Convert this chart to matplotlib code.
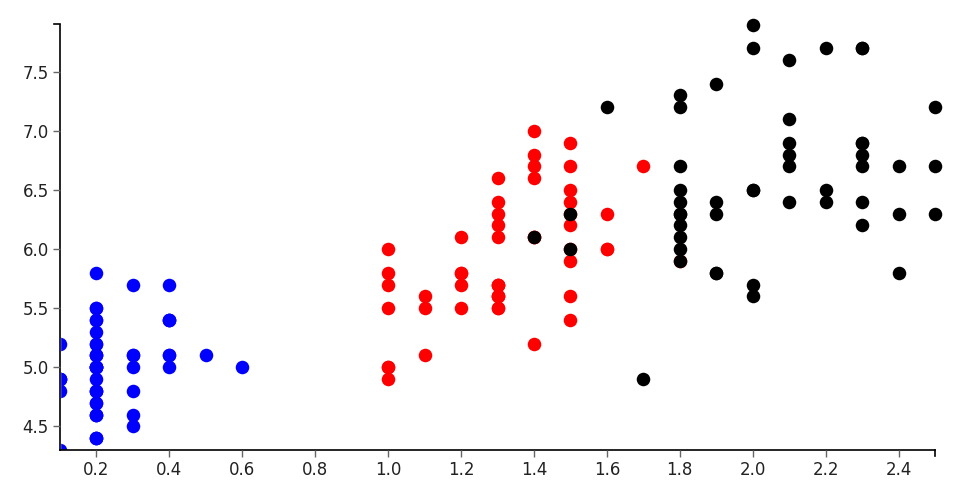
import matplotlib.pyplot as plt
from matplotlib.patches import Rectangle
from matplotlib.lines import Line2D

# Iris data: petal width (x) vs sepal length (y)
setosa_pw = [0.2, 0.2, 0.2, 0.2, 0.2, 0.4, 0.3, 0.2, 0.2, 0.1,
             0.2, 0.2, 0.1, 0.1, 0.2, 0.4, 0.4, 0.3, 0.3, 0.3,
             0.2, 0.4, 0.2, 0.5, 0.2, 0.2, 0.4, 0.2, 0.2, 0.2,
             0.2, 0.4, 0.1, 0.2, 0.1, 0.2, 0.2, 0.1, 0.2, 0.2,
             0.3, 0.3, 0.2, 0.6, 0.4, 0.3, 0.2, 0.2, 0.2, 0.2]
setosa_sl = [5.1, 4.9, 4.7, 4.6, 5.0, 5.4, 4.6, 5.0, 4.4, 4.9,
             5.4, 4.8, 4.8, 4.3, 5.8, 5.7, 5.4, 5.1, 5.7, 5.1,
             5.4, 5.1, 4.6, 5.1, 4.8, 5.0, 5.0, 5.2, 5.2, 4.7,
             4.8, 5.4, 5.2, 5.5, 4.9, 5.0, 5.5, 4.9, 4.4, 5.1,
             5.0, 4.5, 4.4, 5.0, 5.1, 4.8, 5.1, 4.6, 5.3, 5.0]

versicolor_pw = [1.4, 1.5, 1.5, 1.3, 1.5, 1.3, 1.6, 1.0, 1.3, 1.4,
                 1.0, 1.5, 1.0, 1.4, 1.3, 1.4, 1.5, 1.0, 1.5, 1.1,
                 1.8, 1.3, 1.5, 1.2, 1.3, 1.4, 1.4, 1.7, 1.5, 1.0,
                 1.1, 1.0, 1.2, 1.6, 1.5, 1.6, 1.5, 1.3, 1.3, 1.3,
                 1.2, 1.4, 1.2, 1.0, 1.3, 1.2, 1.3, 1.3, 1.1, 1.3]
versicolor_sl = [7.0, 6.4, 6.9, 5.5, 6.5, 5.7, 6.3, 4.9, 6.6, 5.2,
                 5.0, 5.9, 6.0, 6.1, 5.6, 6.7, 5.6, 5.8, 6.2, 5.6,
                 5.9, 6.1, 6.3, 6.1, 6.4, 6.6, 6.8, 6.7, 6.0, 5.7,
                 5.5, 5.5, 5.8, 6.0, 5.4, 6.0, 6.7, 6.3, 5.6, 5.5,
                 5.5, 6.1, 5.8, 5.0, 5.6, 5.7, 5.7, 6.2, 5.1, 5.7]

virginica_pw = [2.5, 1.9, 2.1, 1.8, 2.2, 2.1, 1.7, 1.8, 1.8, 2.5,
                2.0, 1.9, 2.1, 2.0, 2.4, 2.3, 1.8, 2.2, 2.3, 1.5,
                2.3, 2.0, 2.0, 1.8, 2.1, 1.8, 1.8, 1.8, 2.1, 1.6,
                1.9, 2.0, 2.2, 1.5, 1.4, 2.3, 2.4, 1.8, 1.8, 2.1,
                2.4, 2.3, 1.9, 2.3, 2.5, 2.3, 1.9, 2.0, 2.3, 1.8]
virginica_sl = [6.3, 5.8, 7.1, 6.3, 6.5, 7.6, 4.9, 7.3, 6.7, 7.2,
                6.5, 6.4, 6.8, 5.7, 5.8, 6.4, 6.5, 7.7, 7.7, 6.0,
                6.9, 5.6, 7.7, 6.3, 6.7, 7.2, 6.2, 6.1, 6.4, 7.2,
                7.4, 7.9, 6.4, 6.3, 6.1, 7.7, 6.3, 6.4, 6.0, 6.9,
                6.7, 6.9, 5.8, 6.8, 6.7, 6.7, 6.3, 6.5, 6.2, 5.9]

x_ticks = [0.2, 0.4, 0.6, 0.8, 1.0, 1.2, 1.4, 1.6, 1.8, 2.0, 2.2, 2.4]
y_ticks = [4.5, 5.0, 5.5, 6.0, 6.5, 7.0, 7.5]

plt.rcParams['font.family'] = ['DejaVu Sans']

W, H = 960, 500
fig = plt.figure(figsize=(9.6, 5), dpi=100)
left, right, top, bottom = 60, 935, 24.5, 450
ax = fig.add_axes([left / W, (H - bottom) / H, (right - left) / W, (bottom - top) / H])

s = 95
for xs, ys, c in [(setosa_pw, setosa_sl, 'blue'),
                  (versicolor_pw, versicolor_sl, 'red'),
                  (virginica_pw, virginica_sl, 'black')]:
    ax.scatter(xs, ys, s=s, color=c, linewidths=0, clip_on=False, zorder=2)

ax.set_xlim(0.1, 2.5)
ax.set_ylim(4.3, 7.9)

# white mask left of and below the plot area
ax.add_patch(Rectangle((-0.1, -0.15), 0.1, 1.3, transform=ax.transAxes,
                       color='white', clip_on=False, zorder=2.1))
ax.add_patch(Rectangle((-0.1, -0.15), 1.2, 0.15, transform=ax.transAxes,
                       color='white', clip_on=False, zorder=2.1))

ax.spines['top'].set_visible(False)
ax.spines['right'].set_visible(False)
for sp in ['left', 'bottom']:
    ax.spines[sp].set_linewidth(1.2)
    ax.spines[sp].set_color('black')
    ax.spines[sp].set_zorder(3)
ax.xaxis.set_zorder(3)
ax.yaxis.set_zorder(3)

ax.set_xticks(x_ticks)
ax.set_yticks(y_ticks)
ax.set_xticklabels([f'{v:.1f}' for v in x_ticks])
ax.set_yticklabels([f'{v:.1f}' for v in y_ticks])
ax.tick_params(direction='out', length=5, width=1, color='#666',
               labelsize=12, labelcolor='#222', pad=3)

# outer ticks at the ends of the domain lines
px = 1 / W
py = 1 / H
fig.add_artist(Line2D([(left - 6) * px, left * px], [(H - top) * py] * 2,
                      color='black', lw=1.2))
fig.add_artist(Line2D([right * px] * 2, [(H - bottom) * py, (H - bottom - 6) * py],
                      color='black', lw=1.2))

fig.savefig('out.png', dpi=100)
